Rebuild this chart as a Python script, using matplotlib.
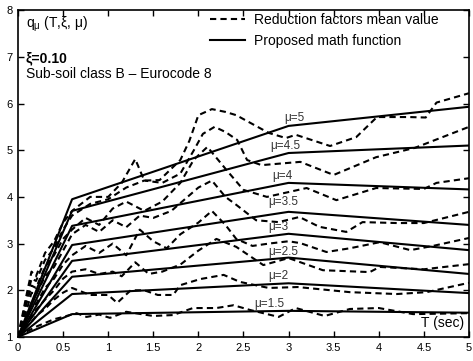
import matplotlib.pyplot as plt

plt.rcParams['font.family'] = ['Liberation Sans', 'DejaVu Sans']

mu_values = [1.5, 2, 2.5, 3, 3.5, 4, 4.5, 5]

# proposed math function: knots at T = 0, 0.6, 3, 5
T_fit = [0, 0.6, 3, 5]
q_fit = {
    1.5: [1, 1.49, 1.56, 1.52],
    2:   [1, 1.92, 2.15, 1.94],
    2.5: [1, 2.29, 2.70, 2.35],
    3:   [1, 2.63, 3.21, 2.86],
    3.5: [1, 2.97, 3.68, 3.40],
    4:   [1, 3.38, 4.30, 4.16],
    4.5: [1, 3.70, 4.94, 5.10],
    5:   [1, 3.95, 5.52, 5.93],
}

# reduction factors mean value
T_mean = {
    1.5: [0, 0.1, 0.2, 0.3, 0.4, 0.5, 0.65, 0.76, 0.9, 1.02, 1.2, 1.5, 1.72, 1.94,
          2.2, 2.39, 2.57, 2.89, 3.08, 3.4, 3.68, 4.0, 4.38, 4.7, 5.0],
    2: [0, 0.1, 0.15, 0.2, 0.3, 0.4, 0.5, 0.6, 0.8, 1.0, 1.1, 1.25, 1.4, 1.55, 1.72,
        1.8, 2.02, 2.28, 2.46, 2.78, 3.1, 3.68, 4.2, 4.53, 5.0],
    2.5: [0, 0.1, 0.15, 0.2, 0.3, 0.4, 0.5, 0.6, 0.75, 0.9, 1.05, 1.15, 1.3, 1.45,
          1.6, 1.8, 2.0, 2.2, 2.42, 2.72, 3.0, 3.38, 3.9, 4.01, 4.5, 5.0],
    3: [0, 0.1, 0.15, 0.2, 0.3, 0.4, 0.5, 0.6, 0.75, 0.9, 1.05, 1.2, 1.35, 1.5, 1.65,
        1.8, 2.0, 2.15, 2.3, 2.42, 2.6, 2.78, 3.0, 3.13, 3.42, 3.68, 4.01, 4.35, 4.6, 5.0],
    3.5: [0, 0.1, 0.15, 0.2, 0.3, 0.4, 0.5, 0.6, 0.75, 0.9, 1.05, 1.2, 1.35, 1.5,
          1.7, 1.85, 2.0, 2.15, 2.3, 2.42, 2.64, 2.89, 3.12, 3.34, 3.64, 3.82, 4.2,
          4.5, 5.0],
    4: [0, 0.1, 0.15, 0.2, 0.3, 0.4, 0.5, 0.6, 0.75, 0.9, 1.05, 1.2, 1.4, 1.6, 1.8,
        1.95, 2.1, 2.31, 2.5, 2.76, 3.2, 3.53, 3.97, 4.5, 4.64, 5.0],
    4.5: [0, 0.1, 0.15, 0.2, 0.3, 0.4, 0.5, 0.6, 0.8, 1.0, 1.2, 1.4, 1.6, 1.8, 1.95,
          2.05, 2.18, 2.3, 2.43, 2.54, 2.7, 3.13, 3.5, 3.97, 4.4, 5.0],
    5: [0, 0.1, 0.15, 0.2, 0.3, 0.4, 0.5, 0.6, 0.8, 1.0, 1.15, 1.3, 1.4, 1.57, 1.8,
        1.9, 2.0, 2.15, 2.3, 2.42, 2.78, 2.97, 3.08, 3.46, 3.75, 3.98, 4.33, 4.52,
        4.64, 5.0],
}
q_mean = {
    1.5: [1, 1.12, 1.22, 1.3, 1.38, 1.43, 1.51, 1.43, 1.48, 1.41, 1.54, 1.45, 1.47,
          1.62, 1.62, 1.68, 1.58, 1.43, 1.62, 1.45, 1.60, 1.62, 1.49, 1.50, 1.51],
    2: [1, 1.25, 1.32, 1.45, 1.6, 1.8, 1.95, 2.05, 1.9, 1.9, 1.73, 2.0, 2.0, 1.9, 1.9,
        2.11, 2.24, 2.33, 2.18, 2.05, 2.07, 1.96, 1.92, 1.96, 2.16],
    2.5: [1, 1.35, 1.45, 1.58, 1.8, 2.0, 2.25, 2.4, 2.45, 2.35, 2.4, 2.3, 2.6, 2.35,
          2.4, 2.55, 2.85, 3.1, 2.93, 2.54, 2.69, 2.43, 2.39, 2.5, 2.45, 2.56],
    3: [1, 1.45, 1.75, 1.7, 2.05, 2.25, 2.55, 2.75, 2.95, 2.8, 3.0, 2.75, 3.3, 3.05,
        2.9, 3.2, 3.45, 3.7, 3.4, 3.1, 2.95, 3.0, 3.05, 3.01, 2.82, 2.9, 3.03, 2.86,
        2.95, 3.12],
    3.5: [1, 1.6, 1.95, 1.9, 2.3, 2.5, 2.85, 3.2, 3.4, 3.25, 3.5, 3.35, 3.6, 3.55,
          3.7, 3.95, 4.2, 4.35, 4.0, 3.83, 3.5, 3.46, 3.57, 3.36, 3.25, 3.46, 3.44,
          3.44, 3.68],
    4: [1, 1.75, 2.1, 2.05, 2.5, 2.75, 3.1, 3.3, 3.55, 3.4, 3.75, 3.9, 3.7, 3.9, 4.3,
        4.8, 5.07, 4.58, 4.15, 4.0, 4.19, 3.93, 4.19, 4.17, 4.3, 4.40],
    4.5: [1, 1.85, 2.25, 2.2, 2.65, 2.9, 3.3, 3.6, 3.85, 3.95, 4.2, 4.35, 4.3, 4.5,
          5.0, 5.35, 5.5, 5.39, 5.22, 4.79, 4.68, 4.75, 4.47, 4.85, 5.05, 5.5],
    5: [1, 1.95, 2.4, 2.3, 2.8, 3.05, 3.45, 3.7, 4.0, 4.0, 4.3, 4.81, 4.35, 4.36,
        4.79, 5.2, 5.75, 5.88, 5.82, 5.75, 5.37, 5.26, 5.33, 5.09, 5.28, 5.71, 5.71,
        5.70, 6.02, 6.22],
}

# label anchor (left, bottom) for each mu
label_pos = {
    1.5: (2.62, 1.58), 2: (2.77, 2.18), 2.5: (2.77, 2.69), 3: (2.77, 3.22),
    3.5: (2.77, 3.76), 4: (2.82, 4.32), 4.5: (2.80, 4.96), 5: (2.95, 5.56),
}

fig = plt.figure(figsize=(4.73, 3.61), dpi=100)
ax = fig.add_axes([0.038, 0.0665, 0.9535, 0.9055])

for i, mu in enumerate(mu_values):
    ax.plot(T_mean[mu], q_mean[mu], color='black', lw=1.5, linestyle=(0, (3, 2)),
            label='Reduction factors mean value' if i == 0 else None)
for i, mu in enumerate(mu_values):
    ax.plot(T_fit, q_fit[mu], color='black', lw=1.5,
            label='Proposed math function' if i == 0 else None)
    lx, ly = label_pos[mu]
    ax.text(lx, ly, f'\u03bc={mu:g}', fontsize=8.5, color='#333333',
            ha='left', va='bottom')

ax.set_xlim(0, 5)
ax.set_ylim(1, 8)
ax.set_xticks([0, 0.5, 1, 1.5, 2, 2.5, 3, 3.5, 4, 4.5, 5])
ax.set_xticklabels(['0', '0.5', '1', '1.5', '2', '2.5', '3', '3.5', '4', '4.5', '5'])
ax.set_yticks(range(1, 9))
ax.tick_params(direction='in', top=True, right=True, length=4, width=1,
               labelsize=8, pad=4)
for s in ax.spines.values():
    s.set_linewidth(1.2)

ax.text(0.017, 0.985, 'q$_\\mathregular{\u03bc}$ (T,\u03be, \u03bc)', transform=ax.transAxes,
        fontsize=10, va='top', ha='left')
ax.text(0.017, 0.875, '\u03be=0.10', transform=ax.transAxes, fontsize=10,
        fontweight='bold', va='top', ha='left')
ax.text(0.017, 0.825, 'Sub-soil class B \u2013 Eurocode 8', transform=ax.transAxes,
        fontsize=10, va='top', ha='left')
ax.text(0.99, 0.02, 'T (sec)', transform=ax.transAxes, fontsize=10,
        va='bottom', ha='right')

ax.legend(loc='upper left', bbox_to_anchor=(0.426, 0.992), frameon=False,
          fontsize=10, handlelength=2.5, handletextpad=0.65, borderpad=0,
          borderaxespad=0, labelspacing=0.5)

fig.savefig('out.png', dpi=100)
